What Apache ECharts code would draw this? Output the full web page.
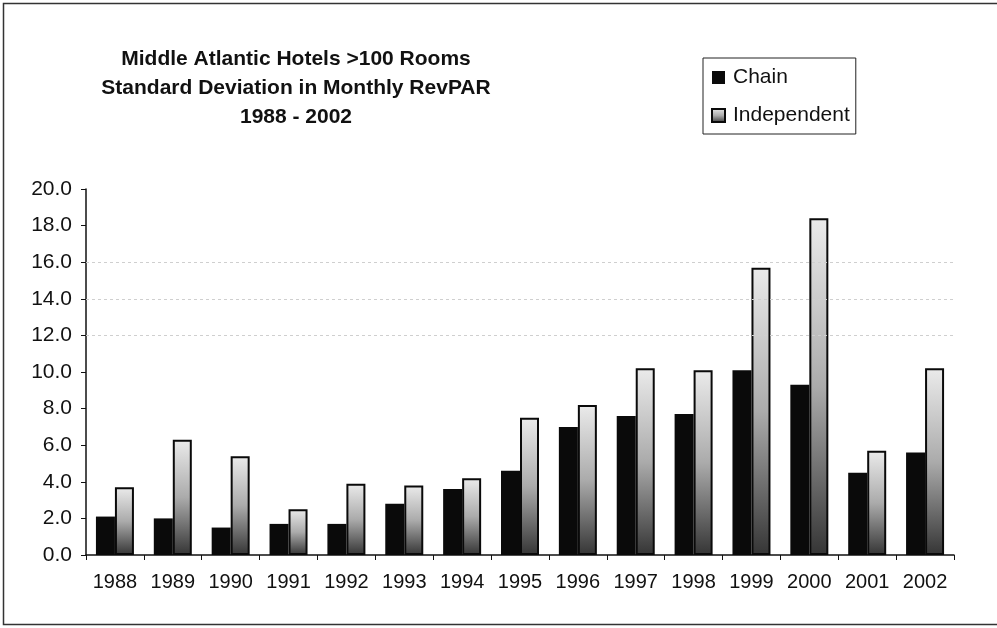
<!DOCTYPE html>
<html>
<head>
<meta charset="utf-8">
<script src="https://cdn.jsdelivr.net/npm/echarts@6/dist/echarts.min.js"></script>
<style>
  html, body { margin: 0; padding: 0; background: #fff; }
  #main { width: 997px; height: 628px; }
</style>
</head>
<body>
<div id="main"></div>
<script>
// values
const years = ['1988', '1989', '1990', '1991', '1992', '1993', '1994', '1995',
               '1996', '1997', '1998', '1999', '2000', '2001', '2002'];
const chain = [2.1, 2.0, 1.5, 1.7, 1.7, 2.8, 3.6, 4.6, 7.0, 7.6, 7.7, 10.1, 9.3, 4.5, 5.6];
const independent = [3.7, 6.3, 5.4, 2.5, 3.9, 3.8, 4.2, 7.5, 8.2, 10.2, 10.1, 15.7, 18.4, 5.7, 10.2];
const gridValues = [12, 14, 16];

const font = '"Liberation Sans", Arial, sans-serif';

const chart = echarts.init(document.getElementById('main'));

const greyFade = new echarts.graphic.LinearGradient(0, 0, 0, 1, [
    { offset: 0, color: '#ebebeb' },
    { offset: 0.5, color: '#ababab' },
    { offset: 1, color: '#353535' }
]);

const option = {
    backgroundColor: '#fff',
    animation: false,
    title: {
        text: 'Middle Atlantic Hotels >100 Rooms\nStandard Deviation in Monthly RevPAR\n1988 - 2002',
        left: 291,
        top: 40,
        textAlign: 'center',
        textStyle: {
            fontFamily: font,
            fontSize: 21,
            fontWeight: 'bold',
            color: '#111',
            lineHeight: 29
        }
    },
    legend: {
        orient: 'vertical',
        left: 703,
        top: 58,
        padding: [9, 6, 8, 8],
        itemGap: 17,
        itemWidth: 13,
        itemHeight: 13,
        borderColor: '#222',
        borderWidth: 1,
        icon: 'rect',
        textStyle: { fontFamily: font, fontSize: 21, color: '#111', padding: [0, 0, 0, 3] },
        data: ['Chain', 'Independent']
    },
    graphic: [{
        type: 'rect',
        shape: { x: 3.5, y: 3.5, width: 1000, height: 621 },
        style: { fill: 'none', stroke: '#333', lineWidth: 1.5 },
        silent: true
    }],
    grid: { left: 86, right: 43, top: 189, bottom: 73 },
    xAxis: {
        type: 'category',
        data: years,
        axisLine: { lineStyle: { color: '#111', width: 1.5 } },
        axisTick: { show: true, length: 5, lineStyle: { color: '#111' } },
        axisLabel: { fontFamily: font, fontSize: 20, color: '#111', margin: 17 }
    },
    yAxis: {
        type: 'value',
        min: 0,
        max: 20,
        interval: 2,
        axisLine: { show: true, lineStyle: { color: '#111', width: 1.5 } },
        axisTick: { show: true, length: 5, lineStyle: { color: '#111' } },
        splitLine: { show: false },
        axisLabel: {
            fontFamily: font, fontSize: 21, color: '#111', margin: 14,
            formatter: v => v.toFixed(1)
        }
    },
    series: [
        {
            name: 'Chain',
            type: 'bar',
            data: chain,
            barWidth: 19,
            barGap: '0%',
            itemStyle: { color: '#0a0a0a' },
            markLine: {
                silent: true,
                symbol: 'none',
                label: { show: false },
                lineStyle: { color: '#cfcfcf', type: [3, 3], width: 1 },
                data: gridValues.map(v => ({ yAxis: v }))
            }
        },
        {
            name: 'Independent',
            type: 'bar',
            data: independent,
            barWidth: 19,
            itemStyle: { color: greyFade, borderColor: '#0a0a0a', borderWidth: 2 }
        }
    ]
};

chart.setOption(option);
</script>
</body>
</html>
